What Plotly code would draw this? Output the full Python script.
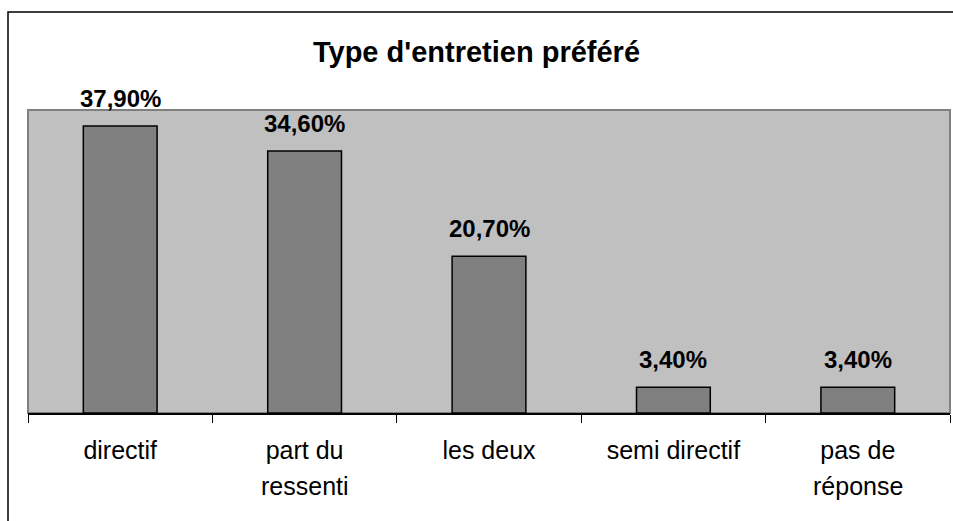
import plotly.graph_objects as go

categories = ['directif', 'part du ressenti', 'les deux', 'semi directif', 'pas de réponse']
values = [37.9, 34.6, 20.7, 3.4, 3.4]
value_labels = ['37,90%', '34,60%', '20,70%', '3,40%', '3,40%']
# category labels are written on two lines in the original
tick_line1 = ['directif', 'part du', 'les deux', 'semi directif', 'pas de']
tick_line2 = ['', 'ressenti', '', '', 'réponse']

font_family = 'Arial, Liberation Sans, sans-serif'

fig = go.Figure()

fig.add_trace(go.Bar(
    x=categories,
    y=values,
    width=0.4,
    marker=dict(color='#808080', line=dict(color='black', width=1.5)),
    hoverinfo='skip',
))

# value labels above the bars
for cat, val, lab in zip(categories, values, value_labels):
    fig.add_annotation(
        x=cat, y=val, text='<b>' + lab + '</b>',
        showarrow=False, yanchor='bottom', yshift=12,
        font=dict(size=24, color='black', family=font_family),
    )

# second line of the category labels (wider line spacing than <br> gives)
for cat, txt in zip(categories, tick_line2):
    if txt:
        fig.add_annotation(
            x=cat, y=0, yref='paper', text=txt,
            showarrow=False, yanchor='top', yshift=-57,
            font=dict(size=25, color='black', family=font_family),
        )

fig.update_layout(
    width=953,
    height=521,
    margin=dict(l=28, r=3, t=110, b=108),
    paper_bgcolor='white',
    plot_bgcolor='#C0C0C0',
    showlegend=False,
    title=dict(
        text="<b>Type d'entretien préféré</b>",
        x=0.5, xanchor='center',
        y=(521 - 52) / 521, yanchor='middle', yref='container',
        font=dict(size=29, color='black', family=font_family),
    ),
    xaxis=dict(
        showline=True, linecolor='black', linewidth=1.5,
        ticks='outside', ticklen=8, tickcolor='black', tickwidth=1,
        tickson='boundaries', ticklabelstandoff=14,
        tickmode='array', tickvals=categories, ticktext=tick_line1,
        showgrid=False,
        tickfont=dict(size=25, color='black', family=font_family),
    ),
    yaxis=dict(
        range=[0, 40], visible=False, showgrid=False, zeroline=False,
    ),
    shapes=[
        # grey frame of the plot area
        dict(type='rect', xref='paper', yref='paper', x0=0, x1=1, y0=0, y1=1,
             line=dict(color='#808080', width=2), layer='below'),
        # outer chart border (only left and top fall inside the picture)
        dict(type='rect', xref='paper', yref='paper',
             x0=-20 / 922, x1=1.2, y0=-0.6, y1=(413 - 12) / 303,
             line=dict(color='black', width=1.5)),
    ],
)

# page body has an 8px default margin; drop it so the figure fills the window
fig.write_html("out.html", config={'displayModeBar': False},
               post_script="document.body.style.margin='0';")
